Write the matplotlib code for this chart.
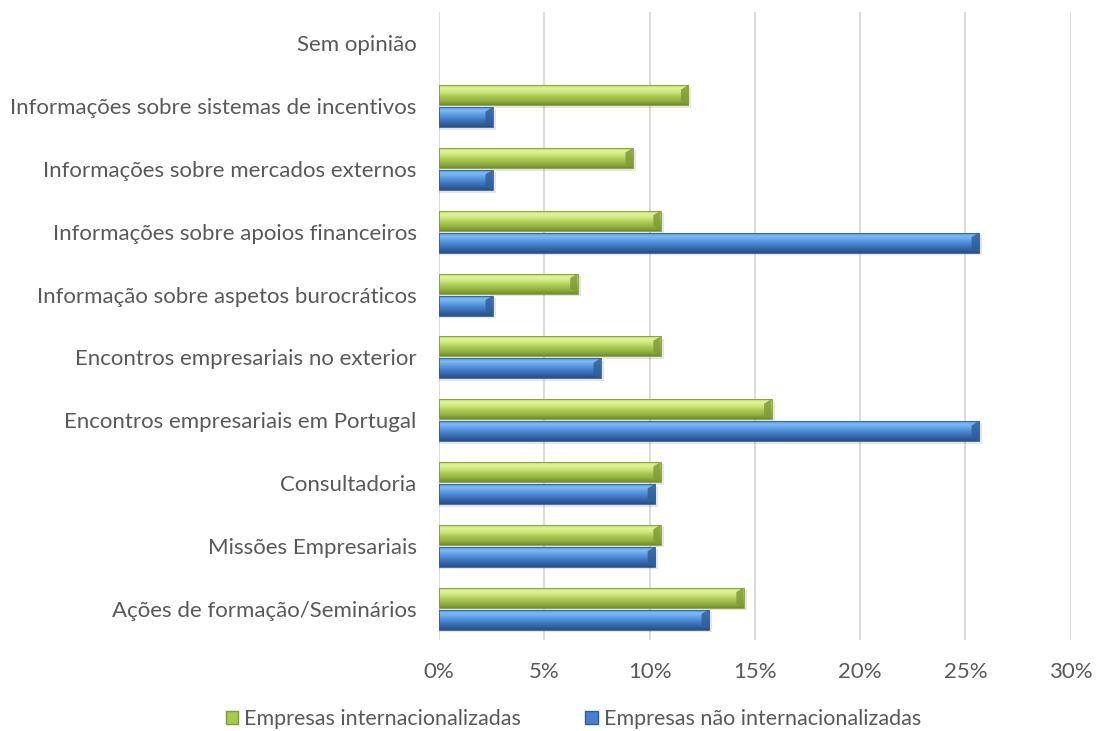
import numpy as np
import matplotlib
matplotlib.use("Agg")
import matplotlib.pyplot as plt
from matplotlib.colors import LinearSegmentedColormap
from matplotlib.patches import Patch, Polygon
from matplotlib.ticker import FuncFormatter

plt.rcParams['font.family'] = ['Lato', 'DejaVu Sans']

# categories listed bottom to top
categorias = [
    "Ações de formação/Seminários",
    "Missões Empresariais",
    "Consultadoria",
    "Encontros empresariais em Portugal",
    "Encontros empresariais no exterior",
    "Informação sobre aspetos burocráticos",
    "Informações sobre apoios financeiros",
    "Informações sobre mercados externos",
    "Informações sobre sistemas de incentivos",
    "Sem opinião",
]
internacionalizadas = [14.47, 10.53, 10.53, 15.79, 10.53, 6.58, 10.53, 9.21, 11.84, 0.0]
nao_internacionalizadas = [12.82, 10.26, 10.26, 25.64, 7.69, 2.56, 25.64, 2.56, 2.56, 0.0]

series = [
    ("Empresas internacionalizadas", internacionalizadas,
     ["#6f8c2c", "#93b243", "#a9c84f", "#c9e377", "#e2f59a", "#b5d35a"], "#7e9c35", 0.175),
    ("Empresas não internacionalizadas", nao_internacionalizadas,
     ["#274f86", "#3665a8", "#4581cc", "#5f9de3", "#7ebcf5", "#4b8ad6"], "#2f5f9c", -0.175),
]

text_color = "#595959"
grid_color = "#d9d9d9"
bar_h = 0.32


def draw_bar(ax, y, value, cmap, edge_dark):
    if value <= 0:
        return
    y0, y1 = y - bar_h / 2, y + bar_h / 2
    # soft shadow under the bar
    ax.add_patch(plt.Rectangle((0, y0 - 0.04), value + 0.15, bar_h, color="#000000",
                               alpha=0.10, lw=0, zorder=2))
    rect = plt.Rectangle((0, y0), value, bar_h, facecolor="none", lw=0, zorder=3)
    ax.add_patch(rect)
    grad = np.linspace(0, 1, 64).reshape(-1, 1)
    im = ax.imshow(grad, cmap=cmap, aspect="auto", extent=(0, value, y0, y1),
                   origin="lower", zorder=3, interpolation="bilinear")
    im.set_clip_path(rect)
    # bevelled end cap
    d = min(0.35, value * 0.3)
    ins = bar_h * 0.22
    cap = Polygon([(value - d, y0 + ins), (value - d, y1 - ins), (value, y1), (value, y0)],
                  closed=True, facecolor=edge_dark, lw=0, alpha=0.85, zorder=4)
    ax.add_patch(cap)
    ax.add_patch(plt.Rectangle((0, y0), value, bar_h, facecolor="none",
                               edgecolor=edge_dark, lw=0.6, zorder=5))


fig = plt.figure(figsize=(10.96, 7.31), dpi=100)
ax = fig.add_axes([0.4005, 0.1245, 0.5765, 0.8591])

ypos = np.arange(len(categorias))
handles = []
for nome, valores, cols, dark, off in series:
    cmap = LinearSegmentedColormap.from_list(nome, cols)
    for y, v in zip(ypos, valores):
        draw_bar(ax, y + off, v, cmap, dark)
    handles.append(Patch(facecolor=cols[2], edgecolor=dark, label=nome))

ax.set_xlim(0, 30)
ax.set_ylim(-0.5, len(categorias) - 0.5)
ax.set_xticks(np.arange(0, 31, 5))
ax.xaxis.set_major_formatter(FuncFormatter(lambda v, p: f"{v:.0f}%"))
ax.set_yticks(ypos)
ax.set_yticklabels(categorias)
ax.tick_params(axis="both", length=0, colors=text_color, labelsize=16)
ax.tick_params(axis="x", pad=16)
ax.tick_params(axis="y", pad=16)
ax.grid(axis="x", color=grid_color, lw=1.3, zorder=0)
ax.set_axisbelow(True)
for s in ax.spines.values():
    s.set_visible(False)

fig.legend(handles=handles, loc="lower center", ncol=2, frameon=False,
           bbox_to_anchor=(0.523, -0.024), fontsize=15.5, handlelength=0.6,
           handleheight=0.6, handletextpad=0.25, columnspacing=3.0,
           labelcolor=text_color)

fig.savefig("out.png", dpi=100)
